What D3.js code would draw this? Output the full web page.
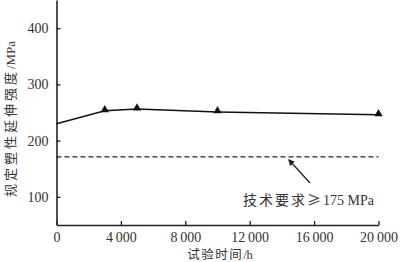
<!DOCTYPE html>
<html>
<head>
<meta charset="utf-8">
<script src="https://cdn.jsdelivr.net/npm/d3@7"></script>
<style>
  body { margin: 0; background: #fff; }
  svg text { fill: #333; }
</style>
</head>
<body>
<div id="chart"></div>
<script>
// test time (h) vs proof strength (MPa)
const hours = [0, 3000, 5000, 10000, 20000];
const strength = [230, 253, 256, 251, 246];
const markerHours = [3000, 5000, 10000, 20000];
const requirement = 171;
const xTicks = [0, 4000, 8000, 12000, 16000, 20000];
const yTicks = [100, 200, 300, 400];
const xTitle = ["试验时间", "/h"];
const yTitle = ["规定塑性延伸强度", "/MPa"];
const noteText = ["技术要求≥", "175 MPa"];

const width = 400, height = 262;
const svg = d3.select("#chart").append("svg")
    .attr("width", width)
    .attr("height", height);

const x = d3.scaleLinear().domain([0, 20000]).range([56.5, 378.5]);
const y = d3.scaleLinear().domain([50, 450]).range([225, 0]);

const fmt = v => d3.format(",")(v).replace(",", "\u2009");
const cjk = "Noto Sans CJK SC";
const serif = "Liberation Serif";

// x axis
const xAxis = svg.append("g")
    .attr("transform", `translate(0,${y(50)})`)
    .call(d3.axisBottom(x).tickValues(xTicks).tickSizeInner(-4).tickSizeOuter(0).tickFormat(fmt).tickPadding(7));
xAxis.select(".domain").attr("stroke", "#222").attr("stroke-width", 1.6);
xAxis.selectAll(".tick line").attr("stroke", "#222").attr("stroke-width", 1.3);
xAxis.selectAll(".tick text")
    .attr("font-family", serif)
    .attr("font-size", 14)
    .attr("fill", "#333");

// y axis
const yAxis = svg.append("g")
    .attr("transform", `translate(${x(0)},0)`)
    .call(d3.axisLeft(y).tickValues(yTicks).tickSizeInner(-4).tickSizeOuter(0).tickPadding(8));
yAxis.select(".domain").attr("stroke", "#222").attr("stroke-width", 1.6);
yAxis.selectAll(".tick line").attr("stroke", "#222").attr("stroke-width", 1.3);
yAxis.selectAll(".tick text")
    .attr("font-family", serif)
    .attr("font-size", 14)
    .attr("fill", "#333");

// requirement line
svg.append("line")
    .attr("x1", x(0)).attr("x2", x(20000))
    .attr("y1", y(requirement)).attr("y2", y(requirement))
    .attr("stroke", "#222")
    .attr("stroke-width", 1.3)
    .attr("stroke-dasharray", "5,3");

// data curve
const pts = hours.map((h, i) => [h, strength[i]]);
const line = d3.line().x(d => x(d[0])).y(d => y(d[1])).curve(d3.curveLinear);
svg.append("path")
    .datum(pts)
    .attr("fill", "none")
    .attr("stroke", "#111")
    .attr("stroke-width", 1.5)
    .attr("d", line);

const markers = pts.filter(d => markerHours.includes(d[0]));
svg.append("g").selectAll("path")
    .data(markers)
    .join("path")
    .attr("d", d3.symbol(d3.symbolTriangle, 30))
    .attr("transform", d => `translate(${x(d[0])},${y(d[1]) - 1})`)
    .attr("fill", "#111");

// arrow
svg.append("defs").append("marker")
    .attr("id", "arrow")
    .attr("viewBox", "0 -5 10 10")
    .attr("refX", 8).attr("refY", 0)
    .attr("markerWidth", 5).attr("markerHeight", 5)
    .attr("orient", "auto")
    .append("path").attr("d", "M0,-5L10,0L0,5").attr("fill", "#222");

svg.append("line")
    .attr("x1", 310).attr("y1", 183)
    .attr("x2", 289).attr("y2", 160)
    .attr("stroke", "#222").attr("stroke-width", 1.3)
    .attr("marker-end", "url(#arrow)");

function twoPart(sel, parts, spacing) {
    sel.append("tspan").attr("font-family", cjk).attr("letter-spacing", spacing).text(parts[0]);
    sel.append("tspan").attr("font-family", serif).text(parts[1]);
}

const note = svg.append("text")
    .attr("x", 243).attr("y", 205)
    .attr("font-size", 14);
twoPart(note, noteText, 2);

// titles
const xt = svg.append("text")
    .attr("x", 220).attr("y", 259)
    .attr("text-anchor", "middle")
    .attr("font-size", 12.5);
twoPart(xt, xTitle, 1.5);

const yt = svg.append("text")
    .attr("transform", `translate(15,119) rotate(-90)`)
    .attr("text-anchor", "middle")
    .attr("font-size", 13);
twoPart(yt, yTitle, 3);
</script>
</body>
</html>
